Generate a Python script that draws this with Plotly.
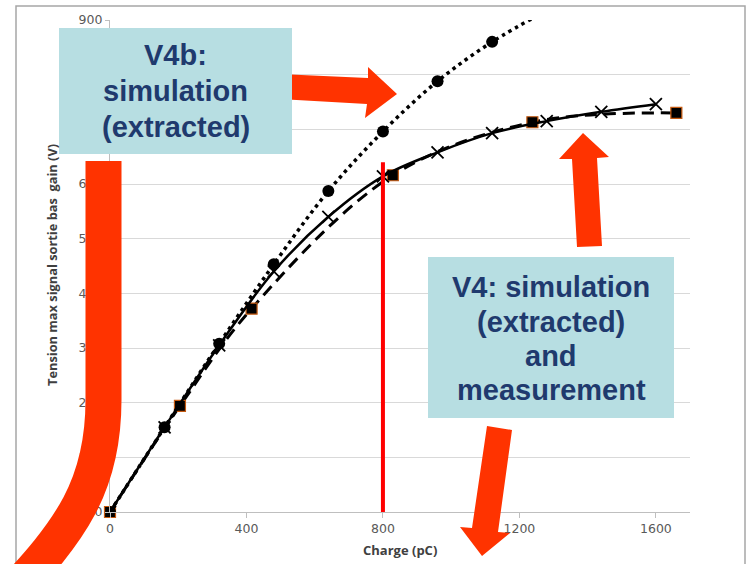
import plotly.graph_objects as go

# ---------------- data ----------------
v4b_charge = [0, 160, 320, 480, 640, 800, 960, 1120, 1280]
v4b_volt = [0, 155, 308, 453, 587, 696, 788, 860, 917]

v4_charge = [0, 160, 320, 480, 640, 800, 960, 1120, 1280, 1440, 1600]
v4_volt = [0, 155, 305, 440, 540, 614, 658, 693, 715, 732, 746]

meas_charge = [0, 205, 415, 829, 1238, 1660]
meas_volt = [0, 194, 372, 616, 713, 730]

x_ticks = [0, 400, 800, 1200, 1600]
y_ticks = [0, 100, 200, 300, 400, 500, 600, 700, 800, 900]
marker_line_charge = 800
marker_line_top = 640

box1_lines = ["V4b:", "simulation", "(extracted)"]
box2_lines = ["V4: simulation", "(extracted)", "and", "measurement"]

# ---------------- layout geometry ----------------
W, H = 750, 564
L, R, T, B = 110, 60, 20, 52
PW, PH = W - L - R, H - T - B


def px(x, y):
    return (x - L) / PW, (H - B - y) / PH


def path(points, close=True):
    s = ""
    for i, (x, y) in enumerate(points):
        xp, yp = px(x, y)
        s += ("M" if i == 0 else "L") + f"{xp:.5f},{yp:.5f} "
    return s + ("Z" if close else "")


ORANGE = "#FF3300"
BOXC = "#B7DEE2"
NAVY = "#1F3A6E"
TXT = "#595959"

fig = go.Figure()

fig.add_trace(go.Scatter(
    x=meas_charge, y=meas_volt, mode="lines+markers", line_shape="spline",
    line=dict(color="black", width=3, dash="12px,7px"),
    marker=dict(symbol="square", size=11, color="black",
                line=dict(color="#C55A11", width=1.2)),
    cliponaxis=False, showlegend=False))
fig.add_trace(go.Scatter(
    x=v4_charge, y=v4_volt, mode="lines+markers", line_shape="spline",
    line=dict(color="black", width=2.5),
    marker=dict(symbol="x-thin", size=12, color="black",
                line=dict(color="black", width=1.8)),
    showlegend=False))
fig.add_trace(go.Scatter(
    x=v4b_charge, y=v4b_volt, mode="lines+markers", line_shape="spline",
    line=dict(color="black", width=3.5, dash="3.5px,4px"),
    marker=dict(symbol="circle", size=12, color="black"),
    showlegend=False))

shapes = []
# outer border
shapes.append(dict(type="rect", xref="paper", yref="paper",
                   x0=px(16, 0)[0], x1=px(745, 0)[0],
                   y0=px(0, 600)[1], y1=px(0, 6)[1],
                   line=dict(color="#A6A6A6", width=1.5), layer="below"))
# red vertical line at 800 pC
shapes.append(dict(type="line", xref="x", yref="y",
                   x0=marker_line_charge, x1=marker_line_charge,
                   y0=0, y1=marker_line_top,
                   line=dict(color="#FF0000", width=4), layer="above"))

# J-shaped thick stroke
x0p, y0p = px(103.5, 161)
a = px(103.5, 400)
c1 = px(103.5, 485)
c2 = px(72, 530)
e = px(5, 600)
jpath = (f"M{x0p:.5f},{y0p:.5f} L{a[0]:.5f},{a[1]:.5f} "
         f"C{c1[0]:.5f},{c1[1]:.5f} {c2[0]:.5f},{c2[1]:.5f} {e[0]:.5f},{e[1]:.5f}")
shapes.append(dict(type="path", xref="paper", yref="paper", path=jpath,
                   line=dict(color=ORANGE, width=36), layer="above"))

# arrows
arrow1 = [(279, 74), (368, 78), (368, 67), (397, 94), (365, 118), (367, 104), (279, 99)]
arrow2 = [(577, 247), (572, 159), (559, 159), (583, 133), (609, 157), (597, 158), (602, 246)]
arrow3 = [(487, 426), (512, 430), (498, 532), (510, 533), (482, 556), (460, 527), (472, 528)]
for arr in (arrow1, arrow2, arrow3):
    shapes.append(dict(type="path", xref="paper", yref="paper", path=path(arr),
                       fillcolor=ORANGE, line=dict(width=0), layer="above"))

# boxes
for (bx0, by0, bx1, by1) in [(59, 28, 292, 154), (428, 257, 674, 418)]:
    p0 = px(bx0, by1)
    p1 = px(bx1, by0)
    shapes.append(dict(type="rect", xref="paper", yref="paper",
                       x0=p0[0], y0=p0[1], x1=p1[0], y1=p1[1],
                       fillcolor=BOXC, line=dict(width=0), layer="above"))

annotations = []
for lines, cx, ys in [(box1_lines, 175.5, [55, 91, 127]),
                      (box2_lines, 551, [287, 322, 356, 390])]:
    for text, yy in zip(lines, ys):
        xp, yp = px(cx, yy)
        annotations.append(dict(xref="paper", yref="paper", x=xp, y=yp,
                                text=f"<b>{text}</b>", showarrow=False,
                                xanchor="center", yanchor="middle",
                                font=dict(family="Liberation Sans, Arial", size=29, color=NAVY)))

# axis titles
xp, yp = px(400, 550)
annotations.append(dict(xref="paper", yref="paper", x=xp, y=yp,
                        text="<b>Charge (pC)</b>", showarrow=False,
                        xanchor="center", yanchor="middle",
                        font=dict(family="Open Sans", size=13, color="#404040")))
xp, yp = px(52, 265)
annotations.append(dict(xref="paper", yref="paper", x=xp, y=yp,
                        text="<b>Tension max signal sortie bas\u00a0 gain (V)</b>",
                        showarrow=False, textangle=-90,
                        xanchor="center", yanchor="middle",
                        font=dict(family="Open Sans", size=12.8, color="#404040")))

fig.update_layout(
    width=W, height=H,
    margin=dict(l=L, r=R, t=T, b=B),
    paper_bgcolor="white", plot_bgcolor="white",
    shapes=shapes, annotations=annotations,
    font=dict(family="DejaVu Sans", size=11, color=TXT),
    xaxis=dict(range=[0, 1700], tickvals=x_ticks, showgrid=False,
               showline=True, linecolor="#BFBFBF", linewidth=1.2,
               ticks="outside", ticklen=5, tickcolor="#BFBFBF",
               tickfont=dict(family="DejaVu Sans", size=12.5, color=TXT),
               zeroline=False, fixedrange=True),
    yaxis=dict(range=[0, 900], tickvals=y_ticks, showgrid=True,
               gridcolor="#D9D9D9", gridwidth=1.2,
               showline=True, linecolor="#BFBFBF", linewidth=1.2,
               ticks="outside", ticklen=4, tickcolor="#BFBFBF",
               tickfont=dict(family="DejaVu Sans", size=12.5, color=TXT),
               zeroline=False, fixedrange=True),
)

fig.write_html("out.html")
